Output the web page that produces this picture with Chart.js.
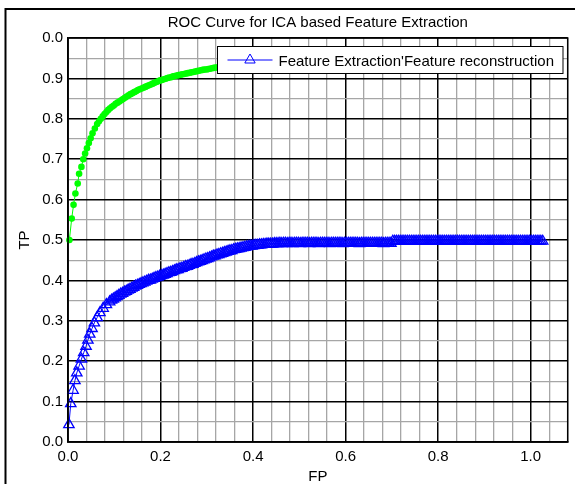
<!DOCTYPE html>
<html>
<head>
<meta charset="utf-8">
<script src="https://cdn.jsdelivr.net/npm/chart.js@4.4.0/dist/chart.umd.min.js"></script>
<style>
  html, body { margin: 0; padding: 0; background: #fff; }
</style>
</head>
<body>
<canvas id="roc" width="575" height="484"></canvas>
<script>
// ROC readings taken off the reference figure (the blue curve is sampled very densely there)
const fpBlue = [
  0.002, 0.006, 0.011, 0.015, 0.019, 0.024, 0.029, 0.034, 0.039, 0.043, 0.047, 0.052, 0.057, 0.063, 0.069, 0.076, 0.083, 0.090,
  0.094, 0.098, 0.102, 0.106, 0.110, 0.114, 0.118, 0.122, 0.126, 0.130,
  0.134, 0.138, 0.142, 0.146, 0.150, 0.154, 0.158, 0.162, 0.166, 0.170,
  0.174, 0.178, 0.182, 0.186, 0.190, 0.194, 0.198, 0.202, 0.206, 0.210,
  0.214, 0.218, 0.222, 0.226, 0.230, 0.234, 0.238, 0.242, 0.246, 0.250,
  0.254, 0.258, 0.262, 0.266, 0.270, 0.274, 0.278, 0.282, 0.286, 0.290,
  0.294, 0.298, 0.302, 0.306, 0.310, 0.314, 0.318, 0.322, 0.326, 0.330,
  0.334, 0.338, 0.342, 0.346, 0.350, 0.354, 0.358, 0.362, 0.366, 0.370,
  0.374, 0.378, 0.382, 0.386, 0.390, 0.394, 0.398, 0.402, 0.406, 0.410,
  0.414, 0.418, 0.422, 0.426, 0.430, 0.434, 0.438, 0.442, 0.446, 0.450,
  0.454, 0.458, 0.462, 0.466, 0.470, 0.474, 0.478, 0.482, 0.486, 0.490,
  0.494, 0.498, 0.502, 0.506, 0.510, 0.514, 0.518, 0.522, 0.526, 0.530,
  0.534, 0.538, 0.542, 0.546, 0.550, 0.554, 0.558, 0.562, 0.566, 0.570,
  0.574, 0.578, 0.582, 0.586, 0.590, 0.594, 0.598, 0.602, 0.606, 0.610,
  0.614, 0.618, 0.622, 0.626, 0.630, 0.634, 0.638, 0.642, 0.646, 0.650,
  0.654, 0.658, 0.662, 0.666, 0.670, 0.674, 0.678, 0.682, 0.686, 0.690,
  0.694, 0.698,
  0.702, 0.706, 0.710, 0.714, 0.718, 0.722, 0.726, 0.730, 0.734, 0.738,
  0.742, 0.746, 0.750, 0.754, 0.758, 0.762, 0.766, 0.770, 0.774, 0.778,
  0.782, 0.786, 0.790, 0.794, 0.798, 0.802, 0.806, 0.810, 0.814, 0.818,
  0.822, 0.826, 0.830, 0.834, 0.838, 0.842, 0.846, 0.850, 0.854, 0.858,
  0.862, 0.866, 0.870, 0.874, 0.878, 0.882, 0.886, 0.890, 0.894, 0.898,
  0.902, 0.906, 0.910, 0.914, 0.918, 0.922, 0.926, 0.930, 0.934, 0.938,
  0.942, 0.946, 0.950, 0.954, 0.958, 0.962, 0.966, 0.970, 0.974, 0.978,
  0.982, 0.986, 0.990, 0.994, 0.998, 1.002, 1.006, 1.010, 1.014, 1.018,
  1.022, 1.026
];
const tpBlue = [
  0.043, 0.095, 0.128, 0.152, 0.171, 0.188, 0.205, 0.221, 0.237, 0.252, 0.267, 0.281, 0.295, 0.308, 0.320, 0.331, 0.340, 0.347,
  0.351, 0.354, 0.357, 0.360, 0.363, 0.366, 0.368, 0.371, 0.373, 0.376,
  0.378, 0.381, 0.383, 0.386, 0.388, 0.390, 0.392, 0.394, 0.396, 0.398,
  0.400, 0.401, 0.403, 0.405, 0.407, 0.408, 0.410, 0.412, 0.413, 0.415,
  0.417, 0.419, 0.420, 0.422, 0.424, 0.426, 0.427, 0.429, 0.430, 0.432,
  0.434, 0.435, 0.437, 0.439, 0.440, 0.442, 0.444, 0.446, 0.447, 0.449,
  0.451, 0.453, 0.454, 0.456, 0.458, 0.460, 0.461, 0.463, 0.464, 0.466,
  0.467, 0.469, 0.470, 0.472, 0.473, 0.474, 0.476, 0.477, 0.478, 0.479,
  0.480, 0.481, 0.482, 0.483, 0.484, 0.485, 0.485, 0.486, 0.487, 0.487,
  0.488, 0.488, 0.489, 0.489, 0.490, 0.490, 0.490, 0.490, 0.491, 0.491,
  0.491, 0.492, 0.491, 0.492, 0.492, 0.491, 0.492, 0.492, 0.491, 0.492,
  0.492, 0.492, 0.491, 0.492, 0.492, 0.492, 0.492, 0.491, 0.492, 0.492,
  0.492, 0.492, 0.491, 0.492, 0.492, 0.492, 0.492, 0.492, 0.491, 0.492,
  0.492, 0.492, 0.492, 0.492, 0.492, 0.491, 0.492, 0.492, 0.492, 0.492,
  0.492, 0.492, 0.492, 0.492, 0.491, 0.492, 0.492, 0.492, 0.492, 0.492,
  0.492, 0.492, 0.492, 0.492, 0.492, 0.492, 0.492, 0.491, 0.492, 0.492,
  0.492, 0.492,
  0.497, 0.497, 0.497, 0.497, 0.497, 0.497, 0.497, 0.497, 0.497, 0.497,
  0.497, 0.497, 0.497, 0.497, 0.497, 0.497, 0.497, 0.497, 0.497, 0.497,
  0.497, 0.497, 0.497, 0.497, 0.497, 0.497, 0.497, 0.497, 0.497, 0.497,
  0.497, 0.497, 0.497, 0.497, 0.497, 0.497, 0.497, 0.497, 0.497, 0.497,
  0.497, 0.497, 0.497, 0.497, 0.497, 0.497, 0.497, 0.497, 0.497, 0.497,
  0.497, 0.497, 0.497, 0.497, 0.497, 0.497, 0.497, 0.497, 0.497, 0.497,
  0.497, 0.497, 0.497, 0.497, 0.497, 0.497, 0.497, 0.497, 0.497, 0.497,
  0.497, 0.497, 0.497, 0.497, 0.497, 0.497, 0.497, 0.497, 0.497, 0.497,
  0.497, 0.497
];
const fpGreen = [
  0.003, 0.008, 0.012, 0.016, 0.021, 0.024, 0.029, 0.033, 0.037, 0.041, 0.045, 0.049, 0.053, 0.058, 0.063,
  0.067, 0.071, 0.075, 0.079, 0.083, 0.087, 0.091, 0.095, 0.099, 0.103,
  0.107, 0.111, 0.115, 0.119, 0.123, 0.127, 0.131, 0.135, 0.139, 0.143,
  0.147, 0.151, 0.155, 0.159, 0.163, 0.167, 0.171, 0.175, 0.179, 0.183,
  0.187, 0.191, 0.195, 0.199, 0.203, 0.207, 0.211, 0.215, 0.219, 0.223,
  0.227, 0.231, 0.235, 0.239, 0.243, 0.247, 0.251, 0.255, 0.259, 0.263,
  0.267, 0.271, 0.275, 0.279, 0.283, 0.287, 0.291, 0.295, 0.299, 0.303,
  0.307, 0.311, 0.315, 0.319, 0.323, 0.327, 0.331, 0.335, 0.339, 0.343
];
const tpGreen = [
  0.500, 0.553, 0.587, 0.615, 0.640, 0.664, 0.681, 0.700, 0.714, 0.727, 0.740, 0.752, 0.764, 0.776, 0.787,
  0.794, 0.800, 0.806, 0.812, 0.817, 0.822, 0.826, 0.830, 0.833, 0.837,
  0.840, 0.843, 0.846, 0.849, 0.852, 0.855, 0.858, 0.861, 0.863, 0.866,
  0.868, 0.871, 0.873, 0.875, 0.877, 0.879, 0.881, 0.883, 0.885, 0.887,
  0.889, 0.891, 0.893, 0.895, 0.896, 0.898, 0.899, 0.901, 0.902, 0.903,
  0.905, 0.906, 0.907, 0.908, 0.909, 0.910, 0.911, 0.912, 0.913, 0.914,
  0.915, 0.916, 0.917, 0.918, 0.919, 0.920, 0.921, 0.922, 0.922, 0.923,
  0.924, 0.925, 0.926, 0.927, 0.927, 0.928, 0.929, 0.930, 0.930, 0.931
];
const xTickLabels = ['0.0', '0.2', '0.4', '0.6', '0.8', '1.0'];
const yTickLabels = ['0.0', '0.1', '0.2', '0.3', '0.4', '0.5', '0.6', '0.7', '0.8', '0.9', '0.0'];
const chartTitle = 'ROC Curve for ICA based Feature Extraction';
const legendLabel = "Feature Extraction'Feature reconstruction";

const FONT = '"Liberation Sans", Arial, sans-serif';
const pairs = (xs, ys) => xs.map((x, i) => ({ x: x, y: ys[i] }));
const onStep = (v, step) => Math.abs(v / step - Math.round(v / step)) < 1e-6;

// title, boxed legend, axes box and figure frame (matlab look)
const matlabFrame = {
  id: 'matlabFrame',
  afterDraw(chart) {
    const { ctx, chartArea: a } = chart;
    ctx.save();
    // figure frame
    ctx.strokeStyle = '#000';
    ctx.lineWidth = 2;
    ctx.strokeRect(5.5, 9, 700, 700);
    // axes box
    ctx.lineWidth = 1.5;
    ctx.strokeRect(a.left, a.top, a.right - a.left, a.bottom - a.top);
    // title
    ctx.fillStyle = '#000';
    ctx.font = '15px ' + FONT;
    ctx.textAlign = 'center';
    ctx.textBaseline = 'alphabetic';
    ctx.fillText(chartTitle, (a.left + a.right) / 2, 26.5);
    // legend
    const tw = ctx.measureText(legendLabel).width;
    const w = 10 + 45 + 6 + tw + 9, h = 27;
    const lx = Math.round(a.right - 5 - w) + 0.5, ly = a.top + 8.5;
    ctx.fillStyle = '#fff';
    ctx.fillRect(lx, ly, w, h);
    ctx.lineWidth = 1;
    ctx.strokeStyle = '#000';
    ctx.strokeRect(lx, ly, w, h);
    const my = ly + h / 2;
    ctx.strokeStyle = '#0000ff';
    ctx.beginPath();
    ctx.moveTo(lx + 10, my);
    ctx.lineTo(lx + 55, my);
    ctx.stroke();
    ctx.fillStyle = 'rgba(0,0,0,0)';
    Chart.helpers.drawPoint(ctx, { pointStyle: 'triangle', radius: 6, borderWidth: 1, rotation: 0 }, lx + 32.5, my);
    ctx.fillStyle = '#000';
    ctx.textAlign = 'left';
    ctx.fillText(legendLabel, lx + 61, my + 6);
    ctx.restore();
  }
};

new Chart(document.getElementById('roc'), {
  type: 'line',
  data: {
    datasets: [
      {
        label: 'green',
        data: pairs(fpGreen, tpGreen),
        borderColor: '#00ff00',
        borderWidth: 1,
        pointRadius: 3.3,
        pointBorderWidth: 0,
        pointBackgroundColor: '#00ff00',
        tension: 0,
        clip: false
      },
      {
        label: legendLabel,
        data: pairs(fpBlue, tpBlue),
        borderColor: '#0000ff',
        borderWidth: 1,
        pointStyle: 'triangle',
        pointRadius: 6,
        pointBorderWidth: 1.3,
        pointBorderColor: '#0000ff',
        pointBackgroundColor: 'rgba(0,0,0,0)',
        tension: 0,
        clip: false
      }
    ]
  },
  options: {
    responsive: false,
    animation: false,
    layout: { padding: { top: 38, right: 4, left: 0, bottom: 0 } },
    plugins: { legend: { display: false }, tooltip: { enabled: false } },
    scales: {
      x: {
        type: 'linear',
        min: 0,
        max: 1.08,
        afterFit: s => { s.height = 42; },
        border: { display: true, color: '#000', width: 1.5 },
        grid: {
          drawTicks: false,
          color: c => onStep(c.tick.value, 0.2) ? '#000' : '#a6a6a6',
          lineWidth: c => onStep(c.tick.value, 0.2) ? 1.5 : 1.3
        },
        ticks: {
          stepSize: 0.04,
          autoSkip: false,
          maxRotation: 0,
          padding: 6,
          color: '#000',
          font: { family: FONT, size: 15 },
          callback: v => onStep(v, 0.2) ? xTickLabels[Math.round(v / 0.2)] : ''
        },
        title: { display: true, text: 'FP', color: '#000', font: { family: FONT, size: 15 }, padding: { top: 0, bottom: -2 } }
      },
      y: {
        type: 'linear',
        min: 0,
        max: 1,
        afterFit: s => { s.width = 68; },
        border: { display: true, color: '#000', width: 1.5 },
        grid: {
          drawTicks: false,
          color: c => onStep(c.tick.value, 0.1) ? '#000' : '#a6a6a6',
          lineWidth: c => onStep(c.tick.value, 0.1) ? 1.5 : 1.3
        },
        ticks: {
          stepSize: 0.05,
          autoSkip: false,
          padding: 5,
          color: '#000',
          font: { family: FONT, size: 15 },
          callback: v => onStep(v, 0.1) ? yTickLabels[Math.round(v * 10)] : ''
        },
        title: { display: true, text: 'TP', color: '#000', font: { family: FONT, size: 15 }, padding: { top: 16, bottom: 0 } }
      }
    }
  },
  plugins: [matlabFrame]
});
</script>
</body>
</html>
